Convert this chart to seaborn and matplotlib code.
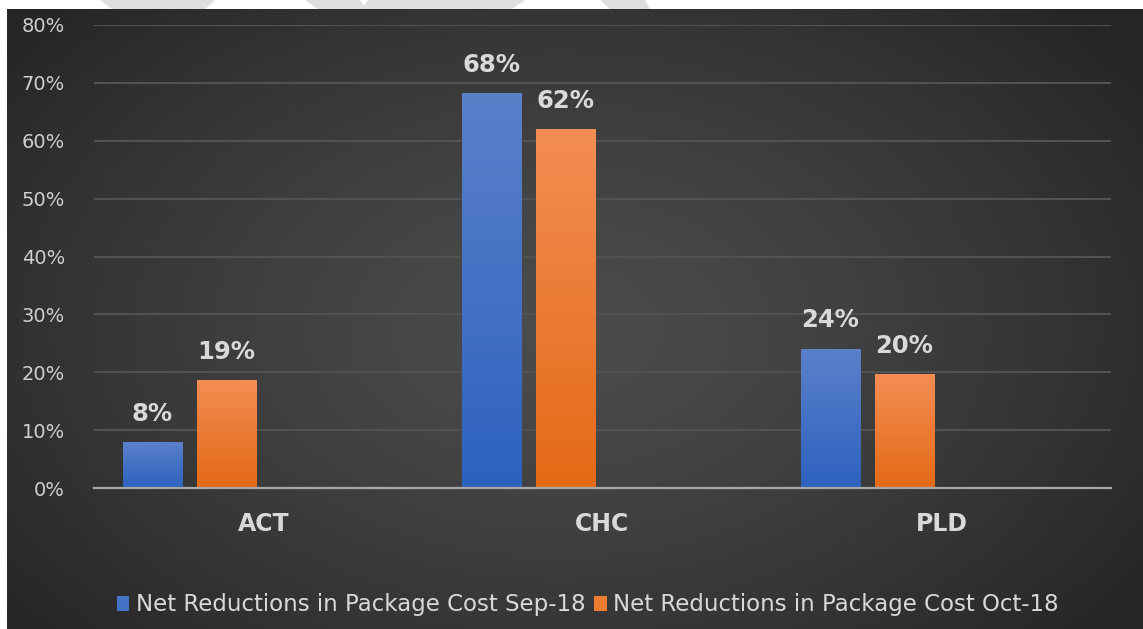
import numpy as np
import pandas as pd
import matplotlib
matplotlib.use("Agg")
import matplotlib.pyplot as plt
import seaborn as sns
from matplotlib.patches import Patch, Polygon

# ---- data ----
categories = ["ACT", "CHC", "PLD"]
sep18 = [0.078, 0.682, 0.240]
oct18 = [0.186, 0.620, 0.196]
series_names = ["Net Reductions in Package Cost Sep-18",
                "Net Reductions in Package Cost Oct-18"]
yticks = [0.0, 0.1, 0.2, 0.3, 0.4, 0.5, 0.6, 0.7, 0.8]
ytick_labels = ["0%", "10%", "20%", "30%", "40%", "50%", "60%", "70%", "80%"]

df = pd.DataFrame({
    "category": categories * 2,
    "value": sep18 + oct18,
    "series": [series_names[0]] * 3 + [series_names[1]] * 3,
})

sns.set_theme(style="white")
plt.rcParams["font.family"] = ["DejaVu Sans"]

W, H = 1143, 629
fig = plt.figure(figsize=(W / 100, H / 100), dpi=100)
fig.patch.set_facecolor("white")

# ---- background panel with radial gradient ----
bg = fig.add_axes([0, 0, 1, 1], zorder=0)
yy, xx = np.mgrid[9:H:1.0, 7:W:1.0]
r = np.sqrt(((xx - 560) / 720) ** 2 + ((yy - 330) / 470) ** 2)
r = np.clip(r, 0, 1)
val = (0x4c - (0x4c - 0x25) * r ** 1.3) / 255.0
img = np.dstack([val, val, val])
bg.imshow(img, extent=[7, W, H, 9], aspect="auto", interpolation="bilinear")
# faint watermark swooshes in the white top margin
for pts in [[(100, 0), (215, 0), (205, 9), (112, 9)],
            [(305, 0), (360, 0), (364, 6), (368, 0), (525, 0), (512, 9), (318, 9)],
            [(600, 0), (645, 0), (650, 9), (610, 9)]]:
    bg.add_patch(Polygon(pts, closed=True, color="#dedede", lw=0))
bg.set_xlim(0, W)
bg.set_ylim(H, 0)
bg.axis("off")

# ---- main axes ----
ax = fig.add_axes([94 / W, 1 - 488 / H, 1017 / W, 463 / H], zorder=1)
ax.patch.set_alpha(0)

hue_order = series_names + ["_pad1", "_pad2"]
palette = {series_names[0]: "#4472c4", series_names[1]: "#ed7d31",
           "_pad1": "#000000", "_pad2": "#000000"}
sns.barplot(data=df, x="category", y="value", hue="series", hue_order=hue_order,
            palette=palette, order=categories, width=0.873, gap=0.2,
            errorbar=None, saturation=1, legend=False, ax=ax)

ax.set_ylim(0, 0.8)
xlim = ax.get_xlim()

grad_colors = {
    "blue": ("#5b80ca", "#2d62bf"),
    "orange": ("#f48d53", "#e46a16"),
}

def hex2rgb(h):
    h = h.lstrip("#")
    return np.array([int(h[i:i + 2], 16) / 255 for i in (0, 2, 4)])

for p in list(ax.patches):
    h = p.get_height()
    if not np.isfinite(h) or h <= 0:
        continue
    x0, w = p.get_x(), p.get_width()
    fc = p.get_facecolor()
    key = "blue" if fc[2] > fc[0] else "orange"
    top, bot = hex2rgb(grad_colors[key][0]), hex2rgb(grad_colors[key][1])
    t = np.linspace(0, 1, 100)[:, None]
    g = top * (1 - t) + bot * t
    g = g[:, None, :]
    ax.imshow(g, extent=[x0, x0 + w, 0, h], aspect="auto",
              zorder=p.get_zorder() + 0.1, interpolation="bilinear")
    p.set_edgecolor("#262626")
    p.set_linewidth(0.6)
    ax.annotate(f"{h:.0%}", (x0 + w / 2, h), xytext=(0, 12),
                textcoords="offset points", ha="center", va="bottom",
                fontsize=17.5, fontweight="bold", color="#d9d9d9", zorder=5)

ax.set_xlim(xlim)
ax.set_ylim(0, 0.8)
ax.set_aspect("auto")

ax.set_yticks(yticks)
ax.set_yticklabels(ytick_labels)
ax.set_xlabel("")
ax.set_ylabel("")
ax.tick_params(axis="y", length=0, pad=21, labelsize=14, labelcolor="#cfcfcf")
ax.tick_params(axis="x", length=0, pad=17, labelsize=17, labelcolor="#d9d9d9")
for lab in ax.get_xticklabels():
    lab.set_fontweight("bold")

ax.yaxis.grid(True, color="#525252", lw=1.5)
ax.xaxis.grid(False)
ax.set_axisbelow(True)
for s in ["top", "right", "left"]:
    ax.spines[s].set_visible(False)
ax.spines["bottom"].set_color("#a8a8a8")
ax.spines["bottom"].set_linewidth(1.6)
ax.spines["bottom"].set_zorder(4)

handles = [Patch(facecolor="#4472c4", edgecolor="none"),
           Patch(facecolor="#ed7d31", edgecolor="none")]
fig.legend(handles, series_names, loc="center", bbox_to_anchor=(588 / W, 1 - 605 / H),
           ncol=2, frameon=False, prop={"family": "DejaVu Sans", "size": 16.5},
           labelcolor="#d9d9d9", handlelength=0.55, handleheight=0.6,
           handletextpad=0.3, columnspacing=0.35)

fig.savefig("out.png", dpi=100)
